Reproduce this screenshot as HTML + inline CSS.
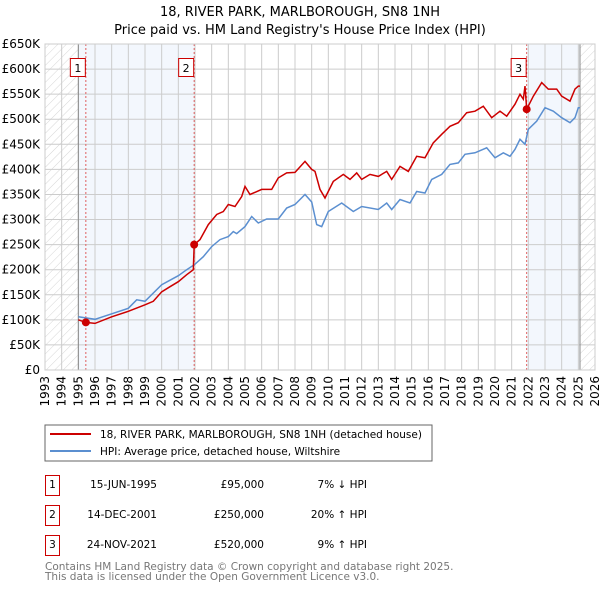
<!DOCTYPE html>
<html><head><meta charset="utf-8"><style>
body{margin:0;background:#fff;font-family:"DejaVu Sans","Liberation Sans",sans-serif;}
svg text{font-family:"DejaVu Sans","Liberation Sans",sans-serif;}
</style></head><body>
<svg id="c" width="600" height="590" xmlns="http://www.w3.org/2000/svg">
<defs><pattern id="h" width="6" height="6" patternUnits="userSpaceOnUse" patternTransform="rotate(45)"><line x1="0" y1="0" x2="0" y2="6" stroke="#ccc" stroke-width="0.8"/></pattern></defs>
<text x="300" y="16" text-anchor="middle" font-size="13">18, RIVER PARK, MARLBOROUGH, SN8 1NH</text>
<text x="300" y="34" text-anchor="middle" font-size="13">Price paid vs. HM Land Registry's House Price Index (HPI)</text>
<g id="plot"></g>
<rect x="45" y="425" width="387" height="36" fill="#fff" stroke="#666"/>
<line x1="50" y1="434" x2="91" y2="434" stroke="#cc0000" stroke-width="2"/>
<text x="100" y="438" font-size="10.5">18, RIVER PARK, MARLBOROUGH, SN8 1NH (detached house)</text>
<line x1="50" y1="451" x2="91" y2="451" stroke="#5b8fd0" stroke-width="2"/>
<text x="100" y="455" font-size="10.5">HPI: Average price, detached house, Wiltshire</text>
<g font-size="10.5">
<rect x="45.5" y="475.5" width="14" height="20" fill="#fff" stroke="#c00"/><text x="52.5" y="488" text-anchor="middle">1</text>
<text x="157" y="488" text-anchor="end">15-JUN-1995</text><text x="264" y="488" text-anchor="end">£95,000</text><text x="367" y="488" text-anchor="end">7% ↓ HPI</text>
<rect x="45.5" y="505.5" width="14" height="20" fill="#fff" stroke="#c00"/><text x="52.5" y="518" text-anchor="middle">2</text>
<text x="157" y="518" text-anchor="end">14-DEC-2001</text><text x="264" y="518" text-anchor="end">£250,000</text><text x="367" y="518" text-anchor="end">20% ↑ HPI</text>
<rect x="45.5" y="535.5" width="14" height="20" fill="#fff" stroke="#c00"/><text x="52.5" y="548" text-anchor="middle">3</text>
<text x="157" y="548" text-anchor="end">24-NOV-2021</text><text x="264" y="548" text-anchor="end">£520,000</text><text x="367" y="548" text-anchor="end">9% ↑ HPI</text>
</g>
<text x="45" y="570" font-size="10.5" fill="#777">Contains HM Land Registry data © Crown copyright and database right 2025.</text>
<text x="45" y="580" font-size="10.5" fill="#777">This data is licensed under the Open Government Licence v3.0.</text>
</svg>
<script>
const hpiYears=[1995,1996,1997,1998,1998.5,1999,2000,2001,2001.5,2002,2002.5,2003,2003.5,2004,2004.3,2004.5,2005,2005.4,2005.8,2006.3,2007,2007.5,2008,2008.6,2009,2009.3,2009.6,2010,2010.8,2011.5,2012,2013,2013.5,2013.8,2014.3,2014.9,2015.3,2015.8,2016.2,2016.8,2017.3,2017.8,2018.2,2018.8,2019.5,2020,2020.5,2020.9,2021.2,2021.5,2021.8,2022,2022.5,2023,2023.5,2024,2024.5,2024.8,2025,2025.1];
const hpiValues=[106,101,112,123,140,137,170,188,200,211,226,246,260,266,276,272,286,306,293,301,301,323,330,350,335,290,286,316,333,316,326,320,333,320,340,333,356,353,380,390,410,413,430,433,443,423,433,426,440,460,450,480,496,523,516,503,493,503,523,523];
const priceYears=[1995,1995.45,1996,1997,1998,1999,1999.5,2000,2000.5,2001,2001.5,2001.9,2001.95,2002.3,2002.8,2003.3,2003.7,2004,2004.4,2004.8,2005,2005.3,2006,2006.6,2007,2007.5,2008,2008.6,2009,2009.2,2009.5,2009.8,2010.3,2010.9,2011.3,2011.7,2012,2012.5,2013,2013.5,2013.8,2014.3,2014.8,2015.3,2015.8,2016.3,2016.8,2017.3,2017.8,2018.3,2018.8,2019.3,2019.8,2020.3,2020.7,2021.2,2021.5,2021.7,2021.8,2021.9,2022.3,2022.8,2023.2,2023.7,2024,2024.5,2024.8,2025,2025.1];
const priceValues=[100,95,93,106,117,130,137,156,166,176,190,200,250,260,290,310,316,330,326,346,366,350,360,360,383,393,394,416,400,396,360,343,376,390,380,393,380,390,386,396,380,406,396,426,423,453,470,486,493,513,516,526,503,516,506,530,550,540,566,520,546,573,560,560,546,536,560,566,566];
const saleYears=[1995.45,2001.95,2021.9];
const saleValues=[95,250,520];
const saleLabels=["1","2","3"];
const yTicks=[0,50,100,150,200,250,300,350,400,450,500,550,600,650];
const yTickLabels=["£0","£50K","£100K","£150K","£200K","£250K","£300K","£350K","£400K","£450K","£500K","£550K","£600K","£650K"];
const xTicks=[1993,1994,1995,1996,1997,1998,1999,2000,2001,2002,2003,2004,2005,2006,2007,2008,2009,2010,2011,2012,2013,2014,2015,2016,2017,2018,2019,2020,2021,2022,2023,2024,2025,2026];

const X0=45,X1=595,Y0=370,Y1=44;
const xs=y=>X0+(y-1993)/(2026-1993)*(X1-X0);
const ys=v=>Y0-v/650*(Y0-Y1);
const NS="http://www.w3.org/2000/svg";
const g=document.getElementById('plot');
function mk(t,a){const e=document.createElementNS(NS,t);for(const k in a)e.setAttribute(k,a[k]);g.appendChild(e);return e;}
let e;
e=mk('rect',{x:xs(1995),y:Y1,width:xs(2001.95)-xs(1995),height:Y0-Y1,fill:'#eef3fc',opacity:0.7});


e=mk('rect',{x:xs(2021.9),y:Y1,width:xs(2025.1)-xs(2021.9),height:Y0-Y1,fill:'#eef3fc',opacity:0.7});


e=mk('rect',{x:X0,y:Y1,width:xs(1995)-X0,height:Y0-Y1,fill:'url(#h)'});


e=mk('rect',{x:xs(2025.1),y:Y1,width:X1-xs(2025.1),height:Y0-Y1,fill:'url(#h)'});


yTicks.forEach((v,i)=>{
 e=mk('line',{x1:X0,x2:X1,y1:ys(v),y2:ys(v),stroke:'#ccc','stroke-width':1});
 
 
 e=mk('text',{x:40,y:ys(v)+4,'text-anchor':'end','font-size':12});
 e.textContent=yTickLabels[i];
 
 
});
xTicks.forEach(yr=>{
 e=mk('line',{x1:xs(yr),x2:xs(yr),y1:Y1,y2:Y0,stroke:'#ccc','stroke-width':1});
 
 
 e=mk('text',{x:0,y:0,'font-size':12,'text-anchor':'end',transform:`translate(${xs(yr)+4},376) rotate(-90)`});
 e.textContent=yr;
 
 
});
[1995,2025.1].forEach(yr=>{e=mk('line',{x1:xs(yr),x2:xs(yr),y1:Y1,y2:Y0,stroke:'#888','stroke-width':1});
 
 });
saleYears.forEach((yr,i)=>{
 e=mk('line',{x1:xs(yr),x2:xs(yr),y1:Y1,y2:Y0,stroke:'#e06060','stroke-width':1,'stroke-dasharray':'2,2'});
 
 
});
const path=(xa,va)=>xa.map((x,i)=>(i?'L':'M')+xs(x).toFixed(1)+','+ys(va[i]).toFixed(1)).join('');
e=mk('path',{d:path(hpiYears,hpiValues),fill:'none',stroke:'#5b8fd0','stroke-width':1.5});


e=mk('path',{d:path(priceYears,priceValues),fill:'none',stroke:'#cc0000','stroke-width':1.5});


saleYears.forEach((yr,i)=>{
 e=mk('circle',{cx:xs(yr),cy:ys(saleValues[i]),r:4,fill:'#cc0000'});
 
 
 e=mk('rect',{x:xs(yr)-15.5,y:58.5,width:15,height:18,fill:'#fff',stroke:'#c00'});
 
 
 e=mk('text',{x:xs(yr)-8,y:72,'text-anchor':'middle','font-size':11});
 e.textContent=saleLabels[i];
 
 
});
e=mk('rect',{x:X0,y:Y1,width:X1-X0,height:Y0-Y1,fill:'none',stroke:'#ccc'});


</script>
</body></html>
